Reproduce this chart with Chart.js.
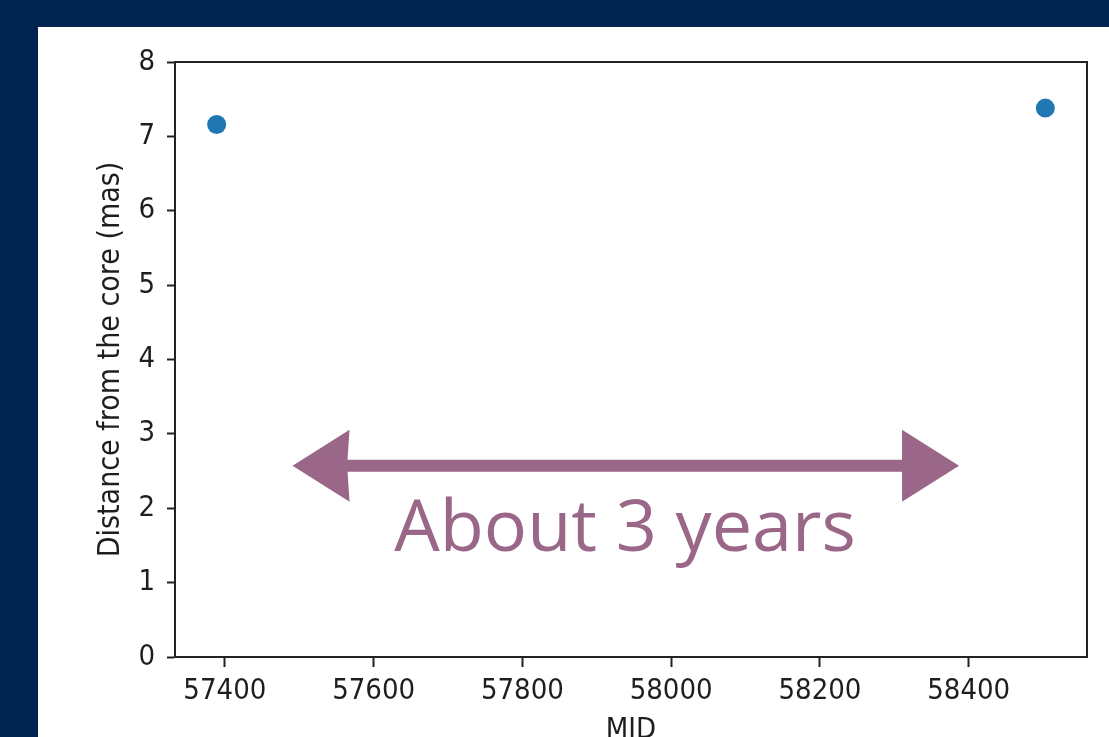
<!DOCTYPE html>
<html>
<head>
<meta charset="utf-8">
<script src="https://cdn.jsdelivr.net/npm/chart.js@4/dist/chart.umd.min.js"></script>
<style>
  html, body { margin: 0; padding: 0; width: 1109px; height: 737px; overflow: hidden; background: #002350; }
  #panel { position: absolute; left: 38px; top: 27px; width: 1071px; height: 710px; background: #ffffff; overflow: hidden; }
  #chart { position: absolute; left: 0; top: 0; }
</style>
</head>
<body>
<div id="panel"><canvas id="chart" width="1071" height="730"></canvas></div>
<script>
// Epochs (MJD) and the measured distance of the component from the core
const epochs = [57389, 58503];
const distances = [7.16, 7.38];

// Axis ticks
const xTicks = [57400, 57600, 57800, 58000, 58200, 58400];
const yTicks = [0, 1, 2, 3, 4, 5, 6, 7, 8];

// Axis ranges
const xRange = [57333, 58559];
const yRange = [0, 8];

// Double arrow spanning the interval between the epochs, and its caption
const arrowFromX = 57491;
const arrowToX = 58387;
const arrowY = 2.57;
const captionX = 57938;
const captionY = 1.42;
const captionText = 'About 3 years';

const tickFont = { family: "'DejaVu Sans Condensed', 'DejaVu Sans', sans-serif", size: 29 };
const axisColor = '#222222';
const textColor = '#1e1e1e';
const markColor = '#9a6789';

// Full box around the plotting area
const framePlugin = {
  id: 'frame',
  afterDraw(chart) {
    const { ctx, chartArea: a } = chart;
    ctx.save();
    ctx.strokeStyle = axisColor;
    ctx.lineWidth = 2;
    ctx.strokeRect(a.left, a.top, a.right - a.left, a.bottom - a.top);
    ctx.restore();
  }
};

// Annotation arrow and caption placed in data coordinates
const annotationPlugin = {
  id: 'span',
  afterDatasetsDraw(chart) {
    const { ctx, scales: { x, y } } = chart;
    const x0 = x.getPixelForValue(arrowFromX);
    const x1 = x.getPixelForValue(arrowToX);
    const yc = y.getPixelForValue(arrowY);
    const headLen = 57, headHalf = 36, shaftHalf = 6;
    ctx.save();
    ctx.fillStyle = markColor;
    ctx.beginPath();
    ctx.moveTo(x0, yc);
    ctx.lineTo(x0 + headLen, yc - headHalf);
    ctx.lineTo(x0 + headLen - 2, yc - shaftHalf);
    ctx.lineTo(x1 - headLen, yc - shaftHalf);
    ctx.lineTo(x1 - headLen, yc - headHalf);
    ctx.lineTo(x1, yc);
    ctx.lineTo(x1 - headLen, yc + headHalf);
    ctx.lineTo(x1 - headLen, yc + shaftHalf);
    ctx.lineTo(x0 + headLen - 2, yc + shaftHalf);
    ctx.lineTo(x0 + headLen, yc + headHalf);
    ctx.closePath();
    ctx.fill();

    ctx.font = "400 72px 'Open Sans', 'Noto Sans', sans-serif";
    ctx.textAlign = 'center';
    ctx.textBaseline = 'alphabetic';
    ctx.fillText(captionText, x.getPixelForValue(captionX), y.getPixelForValue(captionY));
    ctx.restore();
  }
};

new Chart(document.getElementById('chart'), {
  type: 'scatter',
  data: {
    datasets: [{
      data: epochs.map((e, i) => ({ x: e, y: distances[i] })),
      backgroundColor: '#1f77b4',
      borderWidth: 0,
      pointRadius: 9.5
    }]
  },
  options: {
    responsive: false,
    animation: false,
    layout: { padding: { top: 35, right: 22, left: 0, bottom: 0 } },
    plugins: { legend: { display: false }, tooltip: { enabled: false } },
    scales: {
      x: {
        type: 'linear',
        min: xRange[0],
        max: xRange[1],
        afterBuildTicks: s => { s.ticks = xTicks.map(v => ({ value: v })); },
        afterFit: s => { s.height = 100; },
        grid: { drawOnChartArea: false, drawTicks: true, tickLength: 10, tickWidth: 2, tickColor: axisColor },
        border: { display: true, color: axisColor, width: 2 },
        ticks: { color: textColor, font: tickFont, padding: 7, maxRotation: 0, callback: v => String(v) },
        title: { display: true, text: 'MID', color: textColor, font: tickFont, padding: { top: 0, bottom: 9 } }
      },
      y: {
        min: yRange[0],
        max: yRange[1],
        afterBuildTicks: s => { s.ticks = yTicks.map(v => ({ value: v })); },
        afterFit: s => { s.width = 137; },
        grid: { drawOnChartArea: false, drawTicks: true, tickLength: 8, tickWidth: 2, tickColor: axisColor },
        border: { display: true, color: axisColor, width: 2 },
        ticks: { color: textColor, font: tickFont, padding: 12, callback: v => String(v) },
        title: { display: true, text: 'Distance from the core (mas)', color: textColor, font: { family: tickFont.family, size: 30 }, padding: { top: 55, bottom: 0 } }
      }
    }
  },
  plugins: [framePlugin, annotationPlugin]
});
</script>
</body>
</html>
